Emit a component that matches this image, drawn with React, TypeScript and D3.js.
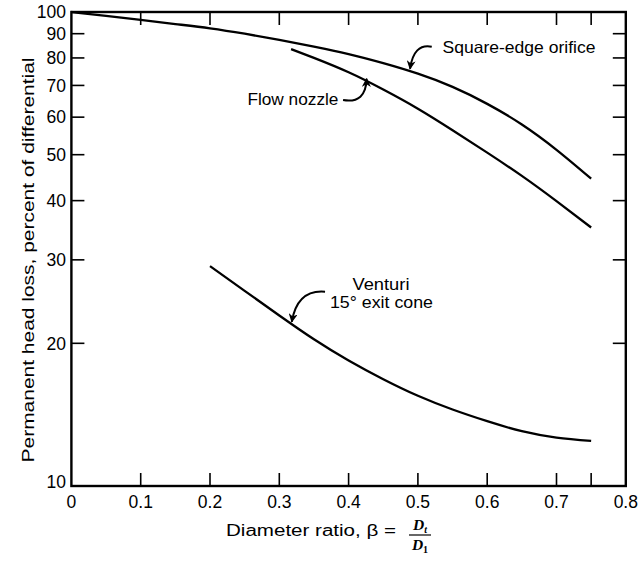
import React from "react";
import * as d3 from "d3";

// ---- data ----
const orificeX = [0, 0.05, 0.1, 0.15, 0.2, 0.25, 0.3, 0.35, 0.4, 0.45, 0.5, 0.55, 0.6, 0.65, 0.7, 0.75];
const orificeY = [100, 98.1, 96.2, 94.3, 92.4, 90.0, 87.3, 84.5, 81.5, 78.0, 74.1, 69.5, 64.0, 57.9, 51.2, 44.5];

const nozzleX = [0.317, 0.35, 0.4, 0.45, 0.5, 0.55, 0.6, 0.65, 0.7, 0.75];
const nozzleY = [83.5, 80.0, 74.6, 68.6, 62.5, 56.3, 50.5, 45.1, 39.9, 35.1];

const venturiX = [0.2, 0.25, 0.3, 0.35, 0.4, 0.45, 0.5, 0.55, 0.6, 0.65, 0.7, 0.75];
const venturiY = [29.1, 25.8, 22.9, 20.4, 18.4, 16.8, 15.5, 14.5, 13.7, 13.05, 12.65, 12.45];

const xTicks = [0.1, 0.2, 0.3, 0.4, 0.5, 0.6, 0.7, 0.75];
const xTickLabels = ["0", "0.1", "0.2", "0.3", "0.4", "0.5", "0.6", "0.7", "0.8"];
const xLabelValues = [0, 0.1, 0.2, 0.3, 0.4, 0.5, 0.6, 0.7, 0.8];
const yTicks = [20, 30, 40, 50, 60, 70, 80, 90];
const yLabelValues = [10, 20, 30, 40, 50, 60, 70, 80, 90, 100];

export default function App() {
  const W = 640;
  const H = 562;
  const x = d3.scaleLinear().domain([0, 0.8]).range([71.4, 625.8]);
  const y = d3.scaleLog().domain([10, 100]).range([486, 12]);

  const line = d3
    .line<[number, number]>()
    .x((d) => x(d[0]))
    .y((d) => y(d[1]))
    .curve(d3.curveNatural);

  const zip = (a: number[], b: number[]) => a.map((v, i) => [v, b[i]] as [number, number]);

  const font = "'Liberation Sans', Arial, sans-serif";
  const tickLen = 13;

  // annotation arrows in data units: tail, control, tip
  const arrows: [number, number][][] = [
    [[0.52, 84.5], [0.494, 86.0], [0.4886, 75.9]],
    [[0.392, 65.2], [0.425, 64.0], [0.426, 72.3]],
    [[0.366, 25.7], [0.326, 26.0], [0.318, 22.2]],
  ];

  const arrowPath = (a: [number, number][]) =>
    `M${x(a[0][0])},${y(a[0][1])} Q${x(a[1][0])},${y(a[1][1])} ${x(a[2][0])},${y(a[2][1])}`;

  return (
    <svg
      width={W}
      height={H}
      style={{ position: "absolute", left: 0, top: 0, background: "#fff" }}
      fontFamily={font}
    >
      <defs>
        <marker
          id="ah"
          viewBox="0 0 10 10"
          refX="9"
          refY="5"
          markerWidth="4.5"
          markerHeight="4.5"
          orient="auto"
          markerUnits="strokeWidth"
        >
          <path d="M0,0 L10,5 L0,10 L3,5 z" fill="#000" />
        </marker>
      </defs>
      <rect width={W} height={H} fill="#fff" />

      {/* frame */}
      <rect
        x={x(0)}
        y={y(100)}
        width={x(0.8) - x(0)}
        height={y(10) - y(100)}
        fill="none"
        stroke="#000"
        strokeWidth={2.4}
      />

      {/* x ticks bottom & top */}
      {xTicks.map((t) => (
        <g key={"xt" + t}>
          <line x1={x(t)} x2={x(t)} y1={y(10)} y2={y(10) - tickLen} stroke="#000" strokeWidth={1.6} />
          <line x1={x(t)} x2={x(t)} y1={y(100)} y2={y(100) + tickLen} stroke="#000" strokeWidth={1.6} />
        </g>
      ))}
      {/* y ticks left & right */}
      {yTicks.map((t) => (
        <g key={"yt" + t}>
          <line x1={x(0)} x2={x(0) + tickLen} y1={y(t)} y2={y(t)} stroke="#000" strokeWidth={1.6} />
          <line x1={x(0.8)} x2={x(0.8) - tickLen} y1={y(t)} y2={y(t)} stroke="#000" strokeWidth={1.6} />
        </g>
      ))}

      {/* x tick labels */}
      {xLabelValues.map((v, i) => (
        <text key={"xl" + v} x={x(v)} y={508} textAnchor="middle" fontSize={17.5}>
          {xTickLabels[i]}
        </text>
      ))}
      {/* y tick labels */}
      {yLabelValues.map((v) => (
        <text
          key={"yl" + v}
          x={66}
          y={v === 10 ? y(v) + 1.5 : y(v) + 6.3}
          textAnchor="end"
          fontSize={17.5}
        >
          {String(v)}
        </text>
      ))}

      {/* curves */}
      <path d={line(zip(orificeX, orificeY)) || ""} fill="none" stroke="#000" strokeWidth={2.3} />
      <path d={line(zip(nozzleX, nozzleY)) || ""} fill="none" stroke="#000" strokeWidth={2.3} />
      <path d={line(zip(venturiX, venturiY)) || ""} fill="none" stroke="#000" strokeWidth={2.3} />

      {/* annotation arrows */}
      {arrows.map((a, i) => (
        <path key={"ar" + i} d={arrowPath(a)} fill="none" stroke="#000" strokeWidth={2} markerEnd="url(#ah)" />
      ))}

      {/* annotation texts */}
      <text x={x(0.5355)} y={y(81.8)} fontSize={16.5} textLength={153} lengthAdjust="spacingAndGlyphs">
        Square-edge orifice
      </text>
      <text x={x(0.254)} y={y(63.7)} fontSize={16.5} textLength={91} lengthAdjust="spacingAndGlyphs">
        Flow nozzle
      </text>
      <text x={x(0.4467)} y={y(25.9)} fontSize={16.5} textAnchor="middle" textLength={57} lengthAdjust="spacingAndGlyphs">
        Venturi
      </text>
      <text x={x(0.4474)} y={y(23.7)} fontSize={16.5} textAnchor="middle" textLength={103} lengthAdjust="spacingAndGlyphs">
        15° exit cone
      </text>

      {/* y axis title */}
      <text
        transform={`translate(33.5,${260}) rotate(-90)`}
        textAnchor="middle"
        fontSize={16.5}
        textLength={405}
        lengthAdjust="spacingAndGlyphs"
      >
        Permanent head loss, percent of differential
      </text>

      {/* x axis title */}
      <text x={226} y={536} fontSize={16} textLength={170} lengthAdjust="spacingAndGlyphs">
        Diameter ratio, β =
      </text>
      <g fontFamily="'Liberation Serif', 'Times New Roman', serif" fontStyle="italic" fontWeight="bold">
        <text x={420} y={530} fontSize={15.5} textAnchor="middle">
          D<tspan fontSize={10} dy={3}>t</tspan>
        </text>
        <line x1={409} x2={431} y1={535} y2={535} stroke="#000" strokeWidth={1.2} />
        <text x={420} y={550} fontSize={15.5} textAnchor="middle">
          D<tspan fontSize={10} dy={3} fontStyle="normal">1</tspan>
        </text>
      </g>
    </svg>
  );
}
